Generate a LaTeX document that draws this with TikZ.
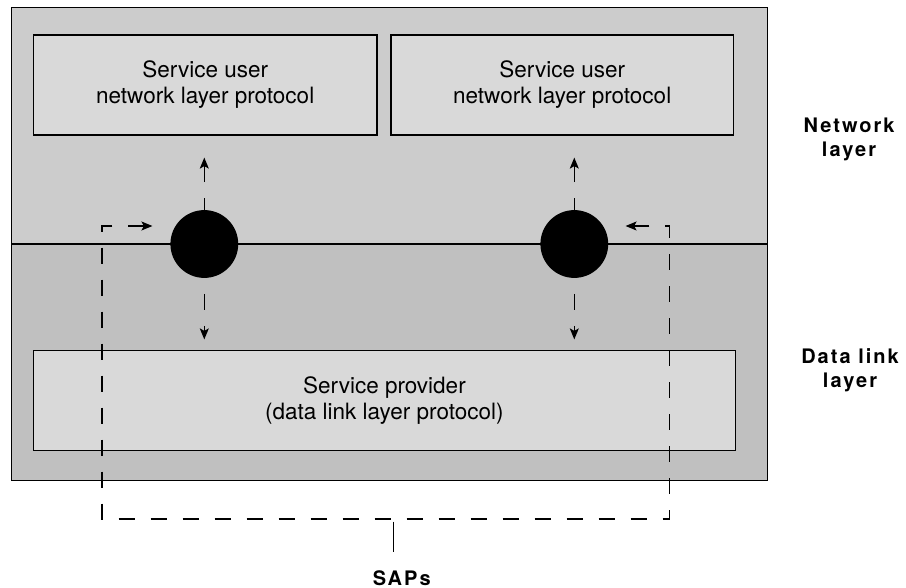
\documentclass[tikz,border=0pt]{standalone}
\usepackage{fontspec}
\setmainfont{TeX Gyre Heros}
\usetikzlibrary{arrows.meta,positioning}
\definecolor{netgray}{RGB}{204,204,204}
\definecolor{linkgray}{RGB}{192,192,192}
\definecolor{boxgray}{RGB}{217,217,217}

\begin{document}
\begin{tikzpicture}[x=1pt,y=-1pt,line width=1.2pt]
\tikzstyle{proto}=[draw,fill=boxgray,align=center,inner sep=0pt,font=\fontsize{22.5}{26}\selectfont]
\tikzstyle{sap}=[draw,circle,fill=black,minimum size=66.6pt,inner sep=0pt]
\tikzstyle{tip}=[Stealth[length=11pt,width=9pt,inset=2.5pt]]
\tikzstyle{prim}=[dash pattern=on 16pt off 16pt,-{Stealth[length=11pt,width=9pt,inset=2.5pt]}]
\tikzstyle{lbl}=[align=center,font=\fontsize{20}{24}\selectfont\bfseries\addfontfeature{LetterSpace=10}]
\useasboundingbox (0,0) rectangle (906,588);
\fill[netgray] (11.5,7.3) rectangle (767.5,244);
\fill[linkgray] (11.5,244) rectangle (767.5,480.7);
\draw (11.5,7.3) rectangle (767.5,480.7);
\draw (11.5,244) -- (767.5,244);
\node [proto,minimum width=343.7pt,minimum height=100pt] (ul) at (205.2,85) {Service user\\network layer protocol};
\node [proto,minimum width=342.5pt,minimum height=100pt] (ur) at (562.2,85) {Service user\\network layer protocol};
\node [proto,minimum width=702pt,minimum height=99.6pt] (sp) at (384.4,400.5) {Service provider\\(data link layer protocol)};
\node [sap] (a) at (204.3,244) {};
\node [sap] (b) at (574.3,244) {};
\draw[prim,dash phase=4pt,shorten >=22pt] (a.north) -- (a |- ul.south);
\draw[prim,dash phase=4pt,shorten >=22pt] (b.north) -- (b |- ur.south);
\draw[prim,dash phase=16pt,shorten >=10.7pt] (a.south) -- (a |- sp.north);
\draw[prim,dash phase=16pt,shorten >=10.7pt] (b.south) -- (b |- sp.north);
\coordinate (inl) at ([xshift=-18pt,yshift=18pt]a.west);
\coordinate (inr) at ([xshift=17.4pt,yshift=18pt]b.east);
\coordinate (bl) at (102,519);
\coordinate (br) at (669.5,519);
\draw[dash pattern=on 16pt off 16pt,{Stealth[length=11pt,width=9pt,inset=2.5pt]}-{Stealth[length=11pt,width=9pt,inset=2.5pt]}]
    (inl) -| (bl) -- (br) |- (inr);
\coordinate (t) at (393.3,521.7);
\coordinate (tb) at (393.3,551.7);
\draw (t) -- (tb);
\node [lbl,anchor=base] (saps) at (401.7,585) {SAPs};
\node [lbl] (nl) at (849,139.5) {Network\\layer};
\node [lbl] (dl) at (850,369.8) {Data link\\layer};
\end{tikzpicture}
\end{document}
